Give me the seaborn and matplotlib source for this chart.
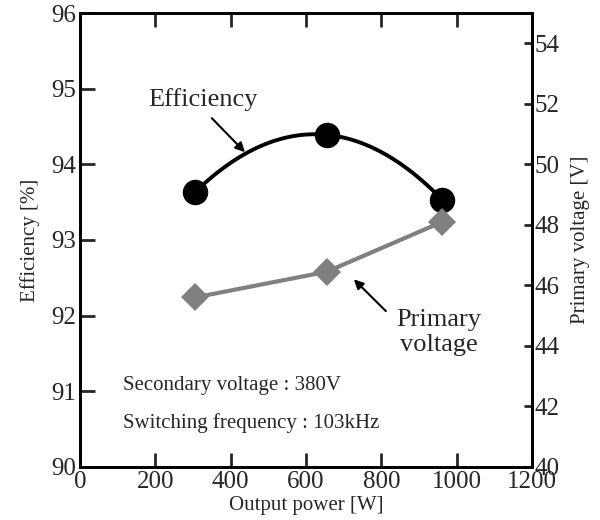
import numpy as np
import pandas as pd
import seaborn as sb
import matplotlib
matplotlib.use("Agg")
import matplotlib.pyplot as plt

power = [305, 655, 962]
efficiency = [93.63, 94.39, 93.53]
primary_voltage = [45.6, 46.45, 48.1]

df = pd.DataFrame({"power": power, "eff": efficiency, "vp": primary_voltage})

sb.set_style("ticks")
plt.rcParams["font.family"] = ["Liberation Serif", "DejaVu Serif"]

fig = plt.figure(figsize=(6, 5.2), dpi=100)
ax = fig.add_axes([0.1333, 0.102, 0.7534, 0.873])
ax2 = ax.twinx()

# efficiency: smooth quadratic through the three points
sb.regplot(data=df, x="power", y="eff", order=2, ci=None, truncate=True, ax=ax,
           scatter_kws=dict(s=300, color="black", alpha=1, zorder=5),
           line_kws=dict(color="black", lw=2.8))

# primary voltage
sb.lineplot(data=df, x="power", y="vp", ax=ax2, color="#808080", lw=3,
            marker="D", markersize=14, markeredgewidth=0)

ax.set_xlim(0, 1200)
ax.set_ylim(90, 96)
ax2.set_ylim(40, 55)
ax.set_xticks(range(0, 1201, 200))
ax.set_yticks(range(90, 97))
ax2.set_yticks(range(40, 55, 2))

ax.set_xlabel("Output power [W]", fontsize=15, labelpad=2)
ax.set_ylabel("Efficiency [%]", fontsize=15, labelpad=8)
ax2.set_ylabel("Primary voltage [V]", fontsize=15, labelpad=8)

for a in (ax, ax2):
    for s in a.spines.values():
        s.set_visible(True)
        s.set_linewidth(2)
        s.set_color("black")
ax.tick_params(axis="x", direction="in", length=10, width=2, labelsize=18,
               top=True, pad=3)
ax.tick_params(axis="y", direction="in", length=11, width=2, labelsize=18, pad=3)
ax2.tick_params(axis="y", direction="in", length=6, width=2, labelsize=18, pad=2)

arrow = dict(arrowstyle="-|>", color="black", lw=1.5, shrinkA=0, shrinkB=0,
             mutation_scale=14)
ax.text(326, 94.86, "Efficiency", fontsize=19, ha="center", va="center")
ax.annotate("", xy=(438, 94.16), xytext=(350, 94.61), arrowprops=arrow)
ax.text(953, 91.78, "Primary\nvoltage", fontsize=19, ha="center", va="center",
        linespacing=1.2)
ax.annotate("", xy=(727, 92.48), xytext=(812, 92.06), arrowprops=arrow)

ax.text(114, 91.08, "Secondary voltage : 380V", fontsize=15, va="center")
ax.text(114, 90.58, "Switching frequency : 103kHz", fontsize=15, va="center")

fig.savefig("out.png", dpi=100)
